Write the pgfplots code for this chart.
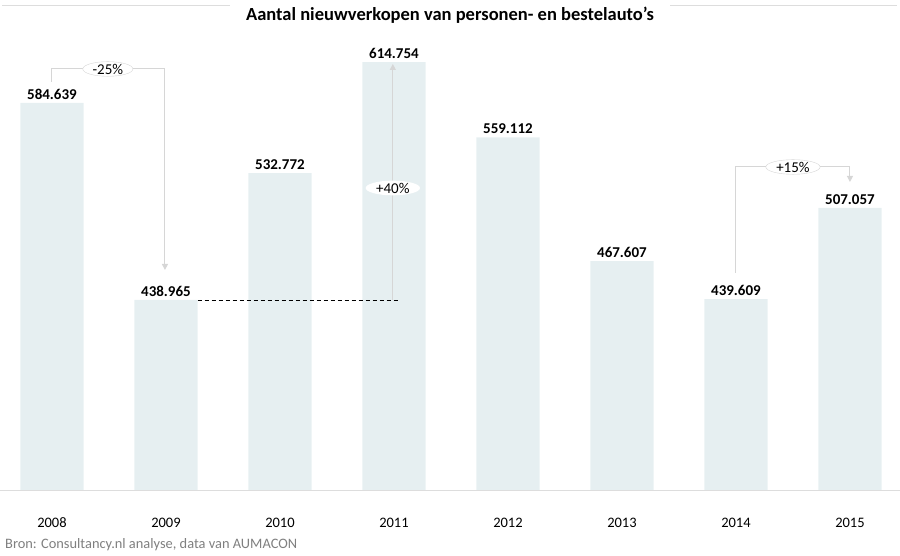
\documentclass[border=0pt]{standalone}
\usepackage{fontspec}
\setmainfont{Carlito}
\usepackage{pgfplots}
\usepackage{pgfplotstable}
\pgfplotsset{compat=1.18}
\usetikzlibrary{arrows.meta,shapes.geometric}
\definecolor{barfill}{HTML}{E6EFF1}
\definecolor{conn}{HTML}{D6D6D6}
\definecolor{srcgray}{HTML}{7F7F7F}
\definecolor{rule}{HTML}{DDDDDD}

% verkopen per jaar (x = 0 is 2008)
\pgfplotstableread{
x y label
0 584639 584.639
1 438965 438.965
2 532772 532.772
3 614754 614.754
4 559112 559.112
5 467607 467.607
6 439609 439.609
7 507057 507.057
}\verkopen

\tikzset{pct/.style={ellipse, fill=white, inner xsep=2.5bp, inner ysep=0bp,
  font=\fontsize{15bp}{17bp}\selectfont}}

\begin{document}
\begin{tikzpicture}[x=1bp,y=1bp]
\begin{axis}[
  scale only axis, width=900bp, height=490bp,
  xmin=-0.456, xmax=7.439, ymin=298400, ymax=660800,
  ybar, bar width=0.553,
  axis line style={draw=none}, major tick length=0, ytick=\empty,
  xtick={0,...,7}, xticklabels={2008,2009,2010,2011,2012,2013,2014,2015},
  xticklabel style={font=\fontsize{14.5bp}{17bp}\selectfont, anchor=base, yshift=-38bp},
  nodes near coords={\textbf{\pgfplotspointmeta}},
  point meta=explicit symbolic,
  every node near coord/.append style={font=\fontsize{15bp}{18bp}\selectfont},
  clip=false,
]
\addplot[fill=barfill, draw=none] table[x=x, y=y, meta=label] {\verkopen};
\coordinate (O) at (rel axis cs:0,0);

% -25%
\draw[conn, line width=1bp, -{Triangle[length=6bp,width=6bp]}]
  (axis cs:0,600160) |- (axis cs:0.991,609770) -- (axis cs:0.991,461110);
\node[pct, draw=conn] at (axis cs:0.49,609770) {-25\%};

% +40%
\draw[black, line width=0.8bp, dash pattern=on 4bp off 3bp]
  (axis cs:1.2765,438965) -- (axis cs:3.035,438965);
\draw[conn, line width=1bp, -{Triangle[length=6bp,width=6bp]}]
  (axis cs:2.99,438965) -- (axis cs:2.99,613470);
\node[pct] at (axis cs:2.99,521760) {+40\%};

% +15%
\draw[conn, line width=1bp, -{Triangle[length=6bp,width=6bp]}]
  (axis cs:6,458890) |- (axis cs:7,537290) -- (axis cs:7,526200);
\node[pct, draw=conn] at (axis cs:6.5,537290) {+15\%};
\end{axis}

\pgfresetboundingbox
\path[use as bounding box] (O) ++(0,-66) rectangle ++(900,556);
\begin{scope}[shift={(O)}]
  \draw[rule, line width=0.8bp] (0,0) -- (900,0);
  % titel
  \draw[rule, line width=0.8bp] (2,485) -- (230,485);
  \draw[rule, line width=0.8bp] (670,485) -- (897,485);
  \node[font=\bfseries\fontsize{18.5bp}{21bp}\selectfont] at (450,475)
    {Aantal nieuwverkopen van personen- en bestelauto’s};
  \node[anchor=west, inner sep=0pt, text=srcgray, font=\fontsize{14.4bp}{17bp}\selectfont]
    at (5,-55) {Bron: Consultancy.nl analyse, data van AUMACON};
\end{scope}
\end{tikzpicture}
\end{document}
